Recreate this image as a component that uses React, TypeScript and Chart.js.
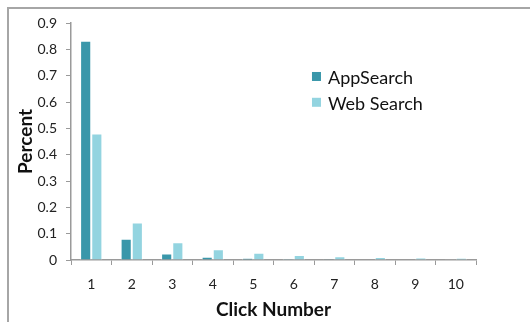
import React, { useEffect, useRef } from "react";
import { Chart, registerables } from "chart.js";

Chart.register(...registerables);

const categories = ["1", "2", "3", "4", "5", "6", "7", "8", "9", "10"];
const appSearch = [0.833, 0.081, 0.025, 0.012, 0.007, 0.004, 0.003, 0.002, 0.002, 0.001];
const webSearch = [0.48, 0.142, 0.067, 0.041, 0.028, 0.019, 0.014, 0.011, 0.009, 0.008];
const seriesNames = ["AppSearch", "Web Search"];
const seriesColors = ["#3a97aa", "#93d4e0"];

const FONT = "Lato, 'Open Sans', sans-serif";

const framePlugin = {
  id: "frame",
  beforeDraw(chart: any) {
    const ctx = chart.ctx;
    ctx.save();
    ctx.fillStyle = "#ffffff";
    ctx.fillRect(0, 0, chart.width, chart.height);
    ctx.restore();
  },
  afterDraw(chart: any) {
    const ctx = chart.ctx;
    ctx.save();
    ctx.strokeStyle = "#a6a6a6";
    ctx.lineWidth = 2;
    ctx.beginPath();
    ctx.moveTo(8, chart.height + 2);
    ctx.lineTo(8, 8);
    ctx.lineTo(chart.width + 2, 8);
    ctx.stroke();
    ctx.restore();
  },
};

const legendPlugin = {
  id: "innerLegend",
  afterDraw(chart: any) {
    const ctx = chart.ctx;
    const y = chart.scales.y;
    const x = chart.scales.x;
    const left = x.left + (x.right - x.left) * 0.595;
    const rows = [0.695, 0.597];
    ctx.save();
    ctx.font = `18px ${FONT}`;
    ctx.textBaseline = "middle";
    ctx.textAlign = "left";
    chart.data.datasets.forEach((ds: any, i: number) => {
      const cy = y.getPixelForValue(rows[i]);
      ctx.fillStyle = ds.backgroundColor;
      ctx.fillRect(left, cy - 5, 9, 9);
      ctx.fillStyle = "#111111";
      ctx.fillText(ds.label, left + 16, cy + 1);
    });
    ctx.restore();
  },
};

export default function App() {
  const ref = useRef<HTMLCanvasElement | null>(null);
  useEffect(() => {
    if (!ref.current) return;
    const chart = new Chart(ref.current, {
      type: "bar",
      data: {
        labels: categories,
        datasets: [
          {
            label: seriesNames[0],
            data: appSearch,
            backgroundColor: seriesColors[0],
            borderColor: "#ffffff",
            borderWidth: 1,
            categoryPercentage: 0.55,
            barPercentage: 1,
          },
          {
            label: seriesNames[1],
            data: webSearch,
            backgroundColor: seriesColors[1],
            borderColor: "#ffffff",
            borderWidth: 1,
            categoryPercentage: 0.55,
            barPercentage: 1,
          },
        ],
      },
      options: {
        animation: false,
        responsive: false,
        maintainAspectRatio: false,
        layout: { padding: { left: 0, top: 23, right: 54, bottom: 0 } },
        plugins: {
          legend: { display: false },
          tooltip: { enabled: false },
        },
        scales: {
          x: {
            grid: {
              drawOnChartArea: false,
              drawTicks: true,
              tickLength: 5,
              color: "#9a9a9a",
              offset: true,
            },
            border: { color: "#9a9a9a", width: 1.5 },
            ticks: {
              color: "#222",
              font: { family: FONT, size: 14 },
              padding: 11,
              maxRotation: 0,
            },
            title: {
              display: true,
              text: "Click Number",
              color: "#111",
              font: { family: FONT, size: 19, weight: "bold" },
              padding: { top: 1, bottom: 1 },
            },
            afterFit: (s: any) => {
              s.height = 62;
            },
          },
          y: {
            min: 0,
            max: 0.9,
            grid: {
              drawOnChartArea: false,
              drawTicks: true,
              tickLength: 5,
              color: "#9a9a9a",
            },
            border: { color: "#9a9a9a", width: 1.5 },
            ticks: {
              stepSize: 0.1,
              color: "#222",
              font: { family: FONT, size: 14 },
              padding: 9,
              callback: (v: any) => String(Math.round(Number(v) * 10) / 10),
            },
            title: {
              display: true,
              text: "Percent",
              color: "#111",
              font: { family: FONT, size: 19, weight: "bold" },
              padding: { top: 14, bottom: 0 },
            },
            afterFit: (s: any) => {
              s.width = 71;
            },
          },
        },
      },
      plugins: [framePlugin, legendPlugin],
    });
    return () => chart.destroy();
  }, []);
  return (
    <div style={{ position: "fixed", left: 0, top: 0, width: 530, height: 322 }}>
      <canvas ref={ref} width={530} height={322} style={{ display: "block" }} />
    </div>
  );
}
